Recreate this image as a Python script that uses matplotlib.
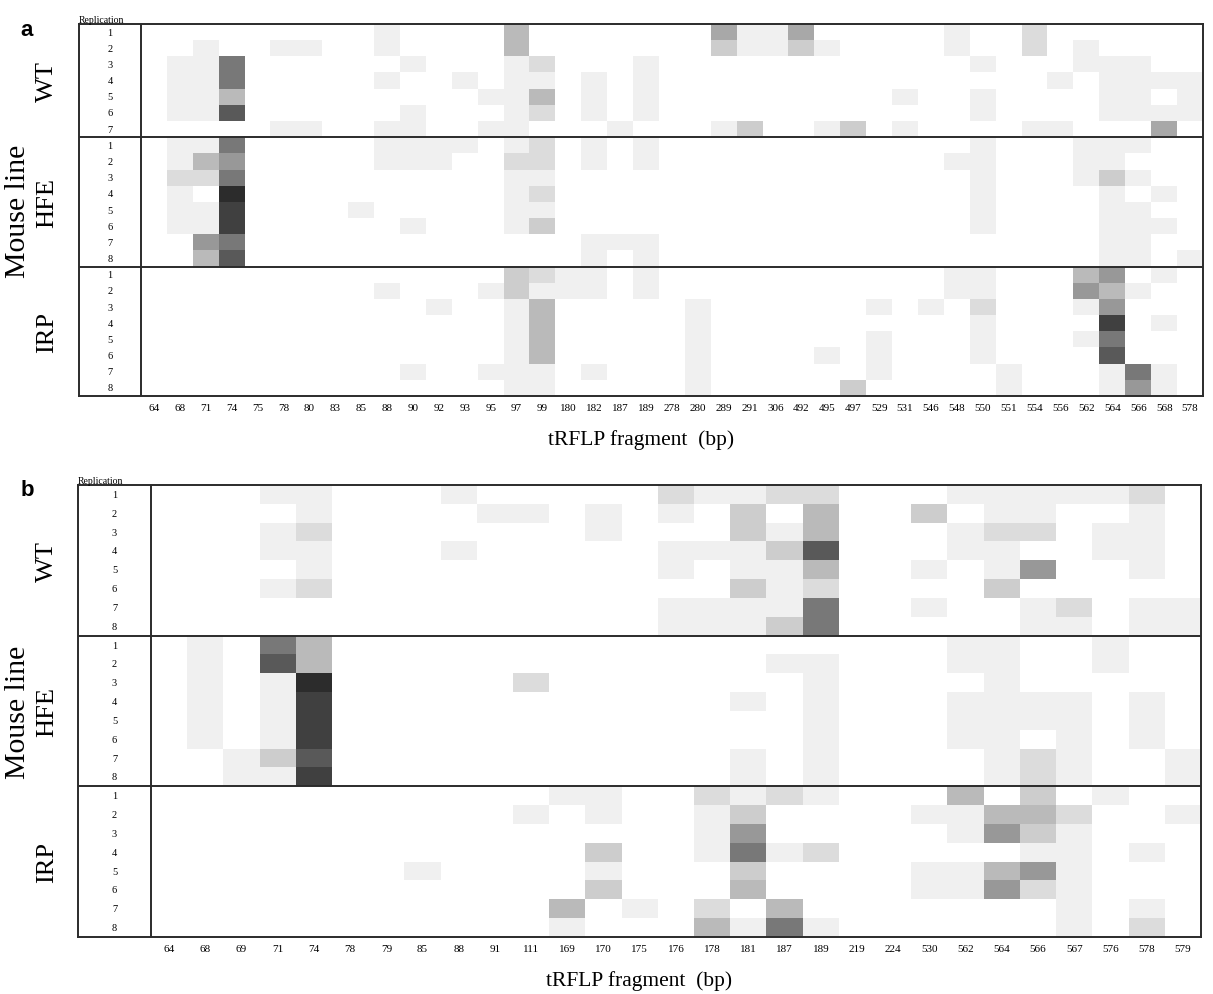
import matplotlib
matplotlib.use("Agg")
import matplotlib.pyplot as plt
from matplotlib.colors import ListedColormap, BoundaryNorm
from matplotlib.transforms import blended_transform_factory
import numpy as np

# ─── Data ────────────────────────────────────────────────────────────────────
# Abundance levels read off the grey shading (0 = absent, 10 = darkest)
frag_a = ["64", "68", "71", "74", "75", "78", "80", "83", "85", "88",
          "90", "92", "93", "95", "97", "99", "180", "182", "187", "189",
          "278", "280", "289", "291", "306", "492", "495", "497", "529", "531",
          "546", "548", "550", "551", "554", "556", "562", "564", "566", "568", "578"]

wt_a = [
    [0,0,0,0,0,0,0,0,0,1, 0,0,0,0,4,0,0,0,0,0, 0,0,5,1,1,5,0,0,0,0, 0,1,0,0,2,0,0,0,0,0,0],
    [0,0,1,0,0,1,1,0,0,1, 0,0,0,0,4,0,0,0,0,0, 0,0,3,1,1,3,1,0,0,0, 0,1,0,0,2,0,1,0,0,0,0],
    [0,1,1,7,0,0,0,0,0,0, 1,0,0,0,1,2,0,0,0,1, 0,0,0,0,0,0,0,0,0,0, 0,0,1,0,0,0,1,1,1,0,0],
    [0,1,1,7,0,0,0,0,0,1, 0,0,1,0,1,1,0,1,0,1, 0,0,0,0,0,0,0,0,0,0, 0,0,0,0,0,1,0,1,1,1,1],
    [0,1,1,4,0,0,0,0,0,0, 0,0,0,1,1,4,0,1,0,1, 0,0,0,0,0,0,0,0,0,1, 0,0,1,0,0,0,0,1,1,0,1],
    [0,1,1,8,0,0,0,0,0,0, 1,0,0,0,1,2,0,1,0,1, 0,0,0,0,0,0,0,0,0,0, 0,0,1,0,0,0,0,1,1,1,1],
    [0,0,0,0,0,1,1,0,0,1, 1,0,0,1,1,0,0,0,1,0, 0,0,1,3,0,0,1,3,0,1, 0,0,0,0,1,1,0,0,0,5,0],
]
hfe_a = [
    [0,1,1,7,0,0,0,0,0,1, 1,1,1,0,1,2,0,1,0,1, 0,0,0,0,0,0,0,0,0,0, 0,0,1,0,0,0,1,1,1,0,0],
    [0,1,4,6,0,0,0,0,0,1, 1,1,0,0,2,2,0,1,0,1, 0,0,0,0,0,0,0,0,0,0, 0,1,1,0,0,0,1,1,0,0,0],
    [0,2,2,7,0,0,0,0,0,0, 0,0,0,0,1,1,0,0,0,0, 0,0,0,0,0,0,0,0,0,0, 0,0,1,0,0,0,1,3,1,0,0],
    [0,1,0,10,0,0,0,0,0,0, 0,0,0,0,1,2,0,0,0,0, 0,0,0,0,0,0,0,0,0,0, 0,0,1,0,0,0,0,1,0,1,0],
    [0,1,1,9,0,0,0,0,1,0, 0,0,0,0,1,1,0,0,0,0, 0,0,0,0,0,0,0,0,0,0, 0,0,1,0,0,0,0,1,1,0,0],
    [0,1,1,9,0,0,0,0,0,0, 1,0,0,0,1,3,0,0,0,0, 0,0,0,0,0,0,0,0,0,0, 0,0,1,0,0,0,0,1,1,1,0],
    [0,0,6,7,0,0,0,0,0,0, 0,0,0,0,0,0,0,1,1,1, 0,0,0,0,0,0,0,0,0,0, 0,0,0,0,0,0,0,1,1,0,0],
    [0,0,4,8,0,0,0,0,0,0, 0,0,0,0,0,0,0,1,0,1, 0,0,0,0,0,0,0,0,0,0, 0,0,0,0,0,0,0,1,1,0,1],
]
irp_a = [
    [0,0,0,0,0,0,0,0,0,0, 0,0,0,0,3,2,1,1,0,1, 0,0,0,0,0,0,0,0,0,0, 0,1,1,0,0,0,4,6,0,1,0],
    [0,0,0,0,0,0,0,0,0,1, 0,0,0,1,3,1,1,1,0,1, 0,0,0,0,0,0,0,0,0,0, 0,1,1,0,0,0,6,4,1,0,0],
    [0,0,0,0,0,0,0,0,0,0, 0,1,0,0,1,4,0,0,0,0, 0,1,0,0,0,0,0,0,1,0, 1,0,2,0,0,0,1,6,0,0,0],
    [0,0,0,0,0,0,0,0,0,0, 0,0,0,0,1,4,0,0,0,0, 0,1,0,0,0,0,0,0,0,0, 0,0,1,0,0,0,0,9,0,1,0],
    [0,0,0,0,0,0,0,0,0,0, 0,0,0,0,1,4,0,0,0,0, 0,1,0,0,0,0,0,0,1,0, 0,0,1,0,0,0,1,7,0,0,0],
    [0,0,0,0,0,0,0,0,0,0, 0,0,0,0,1,4,0,0,0,0, 0,1,0,0,0,0,1,0,1,0, 0,0,1,0,0,0,0,8,0,0,0],
    [0,0,0,0,0,0,0,0,0,0, 1,0,0,1,1,1,0,1,0,0, 0,1,0,0,0,0,0,0,1,0, 0,0,0,1,0,0,0,1,7,1,0],
    [0,0,0,0,0,0,0,0,0,0, 0,0,0,0,1,1,0,0,0,0, 0,1,0,0,0,0,0,3,0,0, 0,0,0,1,0,0,0,1,6,1,0],
]

frag_b = ["64", "68", "69", "71", "74", "78", "79", "85", "88", "91",
          "111", "169", "170", "175", "176", "178", "181", "187", "189", "219",
          "224", "530", "562", "564", "566", "567", "576", "578", "579"]

wt_b = [
    [0,0,0,1,1,0,0,0,1,0, 0,0,0,0,2,1,1,2,2,0, 0,0,1,1,1,1,1,2,0],
    [0,0,0,0,1,0,0,0,0,1, 1,0,1,0,1,0,3,0,4,0, 0,3,0,1,1,0,0,1,0],
    [0,0,0,1,2,0,0,0,0,0, 0,0,1,0,0,0,3,1,4,0, 0,0,1,2,2,0,1,1,0],
    [0,0,0,1,1,0,0,0,1,0, 0,0,0,0,1,1,1,3,8,0, 0,0,1,1,0,0,1,1,0],
    [0,0,0,0,1,0,0,0,0,0, 0,0,0,0,1,0,1,1,4,0, 0,1,0,1,6,0,0,1,0],
    [0,0,0,1,2,0,0,0,0,0, 0,0,0,0,0,0,3,1,2,0, 0,0,0,3,0,0,0,0,0],
    [0,0,0,0,0,0,0,0,0,0, 0,0,0,0,1,1,1,1,7,0, 0,1,0,0,1,2,0,1,1],
    [0,0,0,0,0,0,0,0,0,0, 0,0,0,0,1,1,1,3,7,0, 0,0,0,0,1,1,0,1,1],
]
hfe_b = [
    [0,1,0,7,4,0,0,0,0,0, 0,0,0,0,0,0,0,0,0,0, 0,0,1,1,0,0,1,0,0],
    [0,1,0,8,4,0,0,0,0,0, 0,0,0,0,0,0,0,1,1,0, 0,0,1,1,0,0,1,0,0],
    [0,1,0,1,10,0,0,0,0,0, 2,0,0,0,0,0,0,0,1,0, 0,0,0,1,0,0,0,0,0],
    [0,1,0,1,9,0,0,0,0,0, 0,0,0,0,0,0,1,0,1,0, 0,0,1,1,1,1,0,1,0],
    [0,1,0,1,9,0,0,0,0,0, 0,0,0,0,0,0,0,0,1,0, 0,0,1,1,1,1,0,1,0],
    [0,1,0,1,9,0,0,0,0,0, 0,0,0,0,0,0,0,0,1,0, 0,0,1,1,0,1,0,1,0],
    [0,0,1,3,8,0,0,0,0,0, 0,0,0,0,0,0,1,0,1,0, 0,0,0,1,2,1,0,0,1],
    [0,0,1,1,9,0,0,0,0,0, 0,0,0,0,0,0,1,0,1,0, 0,0,0,1,2,1,0,0,1],
]
irp_b = [
    [0,0,0,0,0,0,0,0,0,0, 0,1,1,0,0,2,1,2,1,0, 0,0,4,0,3,0,1,0,0],
    [0,0,0,0,0,0,0,0,0,0, 1,0,1,0,0,1,3,0,0,0, 0,1,1,4,4,2,0,0,1],
    [0,0,0,0,0,0,0,0,0,0, 0,0,0,0,0,1,6,0,0,0, 0,0,1,6,3,1,0,0,0],
    [0,0,0,0,0,0,0,0,0,0, 0,0,3,0,0,1,7,1,2,0, 0,0,0,0,1,1,0,1,0],
    [0,0,0,0,0,0,0,1,0,0, 0,0,1,0,0,0,3,0,0,0, 0,1,1,4,6,1,0,0,0],
    [0,0,0,0,0,0,0,0,0,0, 0,0,3,0,0,0,4,0,0,0, 0,1,1,6,2,1,0,0,0],
    [0,0,0,0,0,0,0,0,0,0, 0,4,0,1,0,2,0,4,0,0, 0,0,0,0,0,1,0,1,0],
    [0,0,0,0,0,0,0,0,0,0, 0,1,0,0,0,4,1,7,1,0, 0,0,0,0,0,1,0,2,0],
]

groups = ["WT", "HFE", "IRP"]

# grey shade for each abundance level
shades = ['#ffffff', '#f0f0f0', '#dcdcdc', '#cdcdcd', '#bababa', '#a8a8a8',
          '#989898', '#787878', '#595959', '#404040', '#2c2c2c']
cmap = ListedColormap(shades)
norm = BoundaryNorm(np.arange(-0.5, 11, 1), cmap.N)

SERIF = 'Liberation Serif'
LINE = '#2b2b2b'
W, H = 1213, 995


def draw_panel(fig, box, sections, frags, letter):
    """box = (frame_left, inner_left, right, top, bottom) in pixels."""
    x0, xin, x1, y0, y1 = box
    ax = fig.add_axes([x0 / W, 1 - y1 / H, (x1 - x0) / W, (y1 - y0) / H])
    ncol = len(frags)
    lab_w = (xin - x0) / ((x1 - xin) / ncol)

    data = np.vstack([np.array(s) for s in sections])
    nrow = data.shape[0]
    ax.imshow(data, cmap=cmap, norm=norm, aspect='auto', interpolation='nearest',
              extent=(0, ncol, nrow, 0))
    ax.set_xlim(-lab_w, ncol)
    ax.set_ylim(nrow, 0)

    for sp in ax.spines.values():
        sp.set_linewidth(1.4)
        sp.set_color(LINE)
    ax.axvline(0, color=LINE, lw=1.4)

    ax.set_yticks([])
    ax.set_xticks(np.arange(ncol) + 0.5)
    ax.set_xticklabels(frags, fontsize=8, family=SERIF)
    ax.tick_params(axis='x', length=0, pad=5)
    ax.set_xlabel('tRFLP fragment  (bp)', fontsize=15.5, family=SERIF, labelpad=12)

    # section separators, replication numbers and group names
    trans = blended_transform_factory(fig.transFigure, ax.transData)
    start = 0
    for name, sec in zip(groups, sections):
        n = len(sec)
        if start > 0:
            ax.axhline(start, color=LINE, lw=1.4)
        for r in range(n):
            ax.text(-lab_w / 2, start + r + 0.5, str(r + 1), ha='center', va='center',
                    fontsize=7.5, family=SERIF)
        ax.text(47 / W, start + n / 2, name, transform=trans, rotation=90,
                ha='center', va='center', fontsize=19, family=SERIF)
        start += n

    ax.text(18 / W, nrow / 2, 'Mouse line', transform=trans, rotation=90,
            ha='center', va='center', fontsize=21.5, family=SERIF)
    ax.text(0, 1.0, 'Replication', transform=ax.transAxes, ha='left', va='bottom',
            fontsize=7, family=SERIF)
    fig.text(27 / W, 1 - (y0 + 5) / H, letter, ha='center', va='center',
             fontsize=16, fontweight='bold', family='Liberation Sans')
    return ax


fig = plt.figure(figsize=(W / 100, H / 100), dpi=100, facecolor='white')
draw_panel(fig, (79, 141, 1203, 25, 397), [wt_a, hfe_a, irp_a], frag_a, 'a')
draw_panel(fig, (78, 151, 1201, 486, 938), [wt_b, hfe_b, irp_b], frag_b, 'b')

fig.savefig('out.png', dpi=100, facecolor='white')
